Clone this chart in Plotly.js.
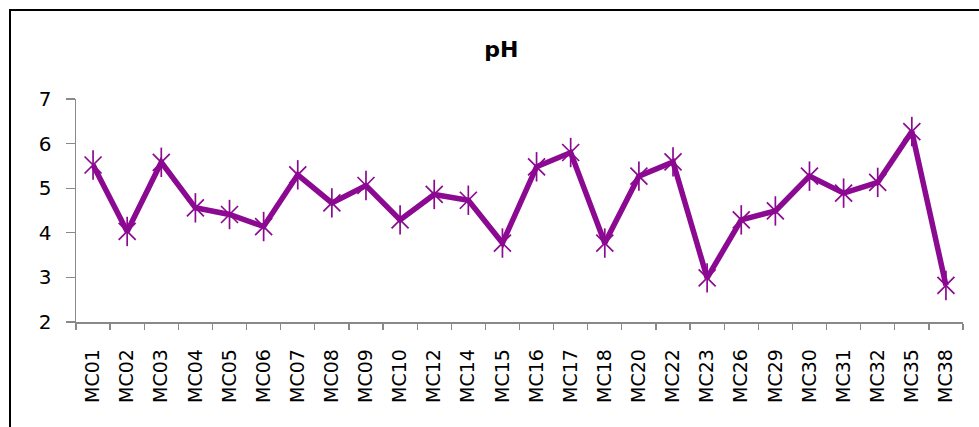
<!DOCTYPE html>
<html>
<head>
<meta charset="utf-8">
<script src="https://cdn.plot.ly/plotly-3.0.1.min.js"></script>
<style>
  html, body { margin: 0; padding: 0; background: #ffffff; overflow: hidden; width: 979px; height: 427px; }
  #chart { position: absolute; left: 0; top: 0; width: 979px; height: 427px; }
  #frame { position: absolute; left: 9px; top: 9px; width: 2000px; height: 2000px;
           border-left: 2px solid #000; border-top: 2px solid #000; pointer-events: none; }
</style>
</head>
<body>
<div id="chart"></div>
<div id="frame"></div>
<script>
const categories = ["MC01","MC02","MC03","MC04","MC05","MC06","MC07","MC08","MC09","MC10",
                    "MC12","MC14","MC15","MC16","MC17","MC18","MC20","MC22","MC23","MC26",
                    "MC29","MC30","MC31","MC32","MC35","MC38"];
const phValues = [5.52, 4.03, 5.58, 4.56, 4.41, 4.14, 5.30, 4.67, 5.06, 4.29,
                  4.86, 4.73, 3.77, 5.48, 5.80, 3.77, 5.27, 5.59, 2.99, 4.29,
                  4.49, 5.27, 4.89, 5.13, 6.27, 2.82];
const yTicks = [2, 3, 4, 5, 6, 7];
const titleText = "pH";

const purple = "rgb(139,10,145)";
const axisGray = "#898989";
const fontFam = "DejaVu Sans, sans-serif";

const traces = [
  {
    x: categories, y: phValues, type: "scatter", mode: "lines+markers",
    line: { color: purple, width: 5.5 },
    marker: { symbol: "x-thin-open", size: 17, color: purple, line: { color: purple, width: 1.7 } },
    hoverinfo: "x+y", showlegend: false
  },
  {
    x: categories, y: phValues, type: "scatter", mode: "markers",
    marker: { symbol: "line-ns-open", size: 21, color: purple, line: { color: purple, width: 1.7 } },
    hoverinfo: "skip", showlegend: false
  }
];

const layout = {
  width: 979, height: 427,
  margin: { l: 76, r: 16, t: 99, b: 105 },
  paper_bgcolor: "rgba(0,0,0,0)", plot_bgcolor: "rgba(0,0,0,0)",
  font: { family: fontFam, color: "#000" },
  title: {
    text: "<b>" + titleText + "</b>",
    font: { family: fontFam, size: 22, color: "#000" },
    xref: "container", x: 0.512, xanchor: "center",
    yref: "container", y: 0.885, yanchor: "middle"
  },
  xaxis: {
    type: "category", range: [-0.5, categories.length - 0.5],
    showline: true, linecolor: axisGray, linewidth: 1.5,
    showgrid: false, zeroline: false,
    ticks: "outside", tickson: "boundaries", ticklen: 6, tickwidth: 1.3, tickcolor: axisGray,
    tickangle: -90, tickfont: { family: fontFam, size: 19, color: "#000" },
    ticklabelstandoff: 18
  },
  xaxis2: {
    overlaying: "x", anchor: "y", type: "linear",
    range: [-0.5, categories.length - 0.5], tickmode: "linear", tick0: 0, dtick: 1,
    ticks: "inside", ticklen: 6, tickwidth: 1.3, tickcolor: axisGray,
    showticklabels: false, showline: false, showgrid: false, zeroline: false
  },
  yaxis: {
    range: [2, 7], tickvals: yTicks,
    showline: true, linecolor: axisGray, linewidth: 1.5,
    showgrid: false, zeroline: false,
    ticks: "outside", ticklen: 9, tickwidth: 1.3, tickcolor: axisGray,
    tickfont: { family: fontFam, size: 20, color: "#000" },
    ticklabelstandoff: 10
  }
};

Plotly.newPlot("chart", traces, layout, { displayModeBar: false, staticPlot: true });
</script>
</body>
</html>
